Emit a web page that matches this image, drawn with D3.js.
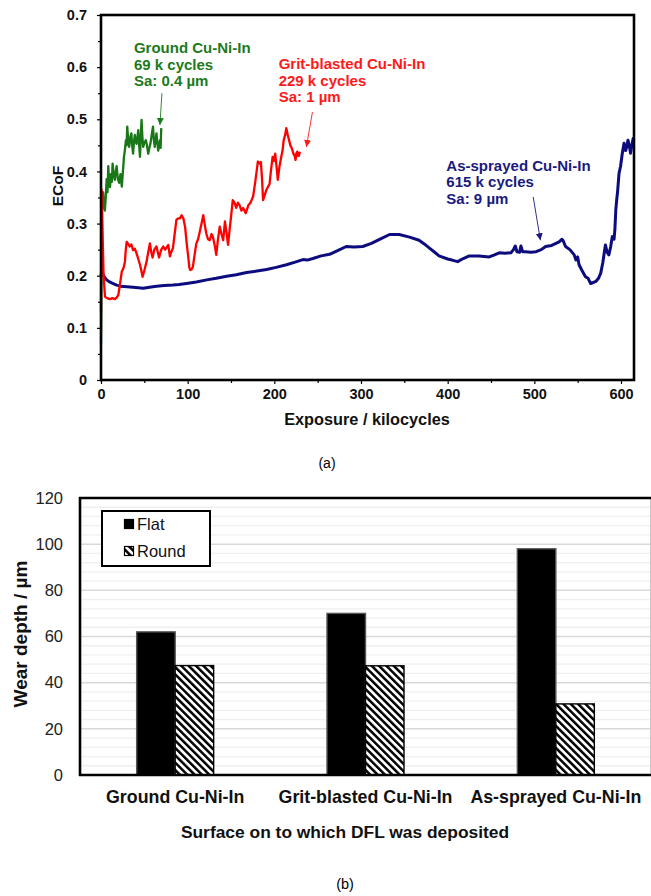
<!DOCTYPE html>
<html>
<head>
<meta charset="utf-8">
<script src="https://cdn.jsdelivr.net/npm/d3@7"></script>
<style>
  body { margin: 0; background: #fff; }
  svg { display: block; font-family: "Liberation Sans", Arial, Helvetica, sans-serif; }
</style>
</head>
<body>
<svg id="fig" width="651" height="896"></svg>
<script>
// ---------- (a) friction coefficient traces: [kilocycles, ECoF] ----------
const groundTrace = [
  [0,0.07],[0.3,0.13],[0.6,0.34],[1.5,0.35],[2.5,0.36],[3.5,0.33],[4.5,0.325],[5.5,0.35],[6.5,0.385],
  [7.5,0.36],[8.4,0.41],[9.4,0.38],[10.4,0.37],[11.5,0.395],[12.5,0.38],[13.4,0.415],[14.5,0.395],
  [16,0.384],[17,0.40],[18,0.41],[19.5,0.385],[21,0.378],[22.5,0.395],[24,0.371],[25.3,0.40],
  [26.5,0.428],[27.5,0.44],[28.8,0.46],[29.5,0.45],[30.3,0.486],[31.4,0.46],[32.5,0.447],[33.8,0.465],
  [35,0.473],[36,0.45],[37,0.434],[38,0.455],[39,0.47],[40,0.458],[41,0.453],[42,0.465],[43,0.479],
  [44,0.45],[45,0.428],[46,0.47],[46.8,0.499],[47.8,0.465],[48.7,0.447],[50,0.455],[51.8,0.46],
  [53,0.45],[54.5,0.434],[55.8,0.445],[57,0.453],[58.5,0.47],[60,0.486],[61,0.46],[62,0.447],
  [63,0.46],[64,0.473],[65,0.455],[66,0.44],[67,0.45],[68,0.46],[68.8,0.445],[69.5,0.483]
];
const gritTrace = [
  [0,0.13],[0.4,0.30],[0.7,0.365],[1.2,0.34],[2,0.27],[3,0.2],[4.6,0.16],[7,0.157],[10.4,0.155],
  [13,0.157],[16,0.155],[18,0.158],[20,0.163],[22,0.185],[24,0.208],[26,0.215],[27.6,0.227],
  [28.6,0.25],[29.6,0.265],[31,0.262],[33,0.256],[35,0.26],[37,0.249],[39,0.252],[41,0.243],
  [43,0.232],[45,0.221],[46.5,0.21],[48,0.198],[50,0.21],[52.6,0.227],[54.5,0.245],[56.4,0.262],
  [58,0.245],[59.5,0.235],[61.5,0.25],[64,0.256],[65.5,0.245],[67,0.235],[69.5,0.25],[71.8,0.256],
  [74,0.25],[76,0.255],[77.6,0.259],[79.5,0.237],[81,0.245],[83,0.253],[85,0.28],[87,0.307],
  [89,0.31],[91,0.31],[93,0.316],[95,0.31],[97,0.294],[99,0.26],[100.6,0.237],[102,0.215],
  [103,0.211],[104.5,0.212],[106,0.217],[108,0.24],[110,0.262],[112,0.27],[114,0.285],[116,0.30],
  [118,0.316],[120,0.295],[121.5,0.281],[123.5,0.27],[125.5,0.268],[127.5,0.28],[129,0.275],
  [131,0.26],[133,0.24],[135,0.27],[137,0.294],[139,0.28],[141,0.268],[143,0.304],[145,0.28],
  [146.6,0.259],[148.5,0.29],[150.5,0.32],[152,0.345],[154,0.34],[156,0.33],[158,0.34],[160,0.335],
  [162,0.325],[164,0.33],[167,0.32],[170,0.335],[172.5,0.34],[175.5,0.352],[178,0.38],[181,0.419],
  [183,0.415],[184.5,0.418],[186,0.38],[187,0.345],[189,0.355],[190.7,0.364],[192.5,0.37],
  [194.5,0.376],[196,0.40],[198,0.428],[199.5,0.42],[201,0.434],[202.5,0.41],[204,0.384],
  [206,0.41],[208,0.428],[209.5,0.44],[210.8,0.46],[212.5,0.47],[213.8,0.483],[215.5,0.47],
  [217,0.46],[218.5,0.45],[219.5,0.447],[221,0.44],[222,0.434],[223.5,0.43],[224.5,0.422],
  [225.5,0.435],[226.5,0.438],[227.5,0.43],[228.4,0.43],[229.2,0.436],[230,0.434]
];
const sprayedTrace = [
  [0,0.2],[1,0.21],[2.7,0.201],[4.5,0.196],[6.5,0.192],[10,0.188],[14,0.185],[18,0.182],[22,0.18],
  [30,0.179],[37,0.178],[43,0.177],[48.7,0.176],[56,0.178],[64,0.18],[73,0.181],[83,0.182],
  [90,0.183],[98.6,0.185],[110,0.188],[122,0.192],[133,0.195],[145,0.199],[156,0.202],[168,0.206],
  [180,0.209],[191,0.212],[202,0.216],[214,0.221],[224,0.226],[233,0.231],[238,0.230],[244.5,0.233],
  [254,0.238],[263.7,0.241],[273,0.248],[283,0.256],[292,0.255],[302,0.256],[312,0.262],[322,0.27],
  [333,0.279],[344,0.279],[356,0.274],[367,0.268],[373,0.261],[379,0.253],[385,0.245],[390,0.238],
  [400,0.232],[405,0.230],[411.5,0.227],[418,0.233],[425,0.238],[436,0.238],[448,0.236],[454,0.24],
  [459.5,0.244],[466,0.243],[473,0.244],[476,0.25],[478,0.257],[480,0.246],[483,0.245],[484.5,0.257],
  [486.5,0.246],[490,0.246],[496,0.245],[502,0.246],[508,0.25],[513,0.256],[520,0.258],[528.6,0.265],
  [531.7,0.270],[533,0.268],[536,0.256],[541,0.25],[546,0.240],[548,0.23],[550,0.236],[551.6,0.221],
  [555,0.21],[559,0.198],[562,0.195],[565,0.185],[568,0.187],[571,0.189],[574,0.195],[576.6,0.205],
  [579,0.225],[582,0.259],[584,0.245],[586,0.240],[588,0.255],[590,0.275],[592,0.27],[593,0.29],
  [594,0.326],[595,0.345],[596,0.36],[597.7,0.396],[599.5,0.41],[601.5,0.435],[603.5,0.454],
  [605.4,0.44],[607,0.45],[608,0.46],[609.5,0.45],[611,0.435],[612.5,0.45],[614,0.463],[615,0.46]
];
const xTicksA = [0, 100, 200, 300, 400, 500, 600];
const yTicksA = [0, 0.1, 0.2, 0.3, 0.4, 0.5, 0.6, 0.7];

// Labels for each trace; arrow runs from "from" to the tip "to" (data units)
const traceNotes = [
  { lines: ["Ground Cu-Ni-In", "69 k cycles", "Sa: 0.4 µm"], at: [38, 0.627], from: [70.3, 0.55], to: [68, 0.489], color: "#1c7a1c" },
  { lines: ["Grit-blasted Cu-Ni-In", "229 k cycles", "Sa: 1 µm"], at: [205, 0.596], from: [244, 0.514], to: [237, 0.447], color: "#ff1a1a" },
  { lines: ["As-sprayed Cu-Ni-In", "615 k cycles", "Sa: 9 µm"], at: [398.5, 0.401], from: [498.7, 0.351], to: [507, 0.268], color: "#1a1a7c" }
];

// ---------- (b) wear depth ----------
const surfaces = ["Ground Cu-Ni-In", "Grit-blasted Cu-Ni-In", "As-sprayed Cu-Ni-In"];
const counterfaces = ["Flat", "Round"];
const flatDepth = [62, 70, 98];
const roundDepth = [47.4, 47.3, 30.8];
const yTicksB = [0, 20, 40, 60, 80, 100, 120];

const svg = d3.select("#fig");
const defs = svg.append("defs");

// Diagonal hatch used for the Round counterface
const hatch = defs.append("pattern")
  .attr("id", "hatch").attr("patternUnits", "userSpaceOnUse")
  .attr("width", 5.2).attr("height", 5.2)
  .attr("patternTransform", "rotate(-45)");
hatch.append("rect").attr("width", 5.2).attr("height", 5.2).attr("fill", "#fff");
hatch.append("rect").attr("x", 0).attr("y", 0).attr("width", 2.5).attr("height", 5.2).attr("fill", "#000");

// ================= Panel (a) =================
const xA = d3.scaleLinear().domain([0, 615]).range([101, 634]);
const yA = d3.scaleLinear().domain([0, 0.7]).range([380, 15]);
const gA = svg.append("g");

// minor ticks
gA.append("g").attr("transform", `translate(0,${yA(0)})`)
  .call(d3.axisBottom(xA).tickValues(d3.range(50, 600, 100)).tickSize(3).tickFormat(""))
  .call(g => g.select(".domain").remove());
gA.append("g").attr("transform", `translate(${xA(0)},0)`)
  .call(d3.axisLeft(yA).tickValues(d3.range(0.05, 0.7, 0.1)).tickSize(3).tickFormat(""))
  .call(g => g.select(".domain").remove());

// major ticks with labels
gA.append("g").attr("transform", `translate(0,${yA(0)})`)
  .call(d3.axisBottom(xA).tickValues(xTicksA).tickSize(4).tickPadding(5).tickFormat(d3.format("d")))
  .call(g => g.select(".domain").remove())
  .call(g => g.selectAll("text").attr("font-size", 14.5).attr("font-weight", "bold").attr("fill", "#111"));
gA.append("g").attr("transform", `translate(${xA(0)},0)`)
  .call(d3.axisLeft(yA).tickValues(yTicksA).tickSize(4).tickPadding(10)
    .tickFormat(d => d === 0 ? "0" : d3.format(".1f")(d)))
  .call(g => g.select(".domain").remove())
  .call(g => g.selectAll("text").attr("font-size", 14.5).attr("font-weight", "bold").attr("fill", "#111"));
gA.selectAll(".tick line").attr("stroke", "#000").attr("stroke-width", 1.2);

// traces
const lineA = d3.line().x(d => xA(d[0])).y(d => yA(d[1]));
gA.append("path").datum(sprayedTrace).attr("d", lineA)
  .attr("fill", "none").attr("stroke", "#0c0c7e").attr("stroke-width", 3).attr("stroke-linejoin", "round");
gA.append("path").datum(groundTrace).attr("d", lineA)
  .attr("fill", "none").attr("stroke", "#187818").attr("stroke-width", 2.3).attr("stroke-linejoin", "round");
gA.append("path").datum(gritTrace).attr("d", lineA)
  .attr("fill", "none").attr("stroke", "#ff0000").attr("stroke-width", 2.3).attr("stroke-linejoin", "round");

// frame
gA.append("rect")
  .attr("x", xA(0)).attr("y", yA(0.7))
  .attr("width", xA(615) - xA(0)).attr("height", yA(0) - yA(0.7))
  .attr("fill", "none").attr("stroke", "#000").attr("stroke-width", 2.6);

// annotations
traceNotes.forEach((n, i) => {
  const mid = "arrow" + i;
  defs.append("marker").attr("id", mid)
    .attr("viewBox", "0 0 10 10").attr("refX", 10).attr("refY", 5)
    .attr("markerWidth", 7).attr("markerHeight", 8).attr("markerUnits", "userSpaceOnUse")
    .attr("orient", "auto")
    .append("path").attr("d", "M0,0 L10,5 L0,10 Z").attr("fill", n.color);
  gA.append("line")
    .attr("x1", xA(n.from[0])).attr("y1", yA(n.from[1]))
    .attr("x2", xA(n.to[0])).attr("y2", yA(n.to[1]))
    .attr("stroke", n.color).attr("stroke-width", 0.9)
    .attr("marker-end", `url(#${mid})`);
  const t = gA.append("text")
    .attr("x", xA(n.at[0])).attr("y", yA(n.at[1]))
    .attr("fill", n.color).attr("font-size", 15).attr("font-weight", "bold");
  n.lines.forEach((s, k) => t.append("tspan").attr("x", xA(n.at[0])).attr("dy", k === 0 ? 0 : 16.5).text(s));
});

// axis titles
gA.append("text").attr("x", 367).attr("y", 425).attr("text-anchor", "middle")
  .attr("font-size", 16.3).attr("font-weight", "bold").attr("fill", "#111").text("Exposure / kilocycles");
gA.append("text").attr("transform", "translate(63,186) rotate(-90)").attr("text-anchor", "middle")
  .attr("font-size", 15.5).attr("font-weight", "bold").attr("fill", "#111").text("ECoF");
gA.append("text").attr("x", 327).attr("y", 468).attr("text-anchor", "middle")
  .attr("font-size", 14).attr("fill", "#000").text("(a)");

// ================= Panel (b) =================
const xB = d3.scaleBand().domain(surfaces).range([80, 651]);
const halfGroup = 38.5;
const xSub = d3.scaleBand().domain(counterfaces)
  .range([xB.bandwidth() / 2 - halfGroup, xB.bandwidth() / 2 + halfGroup]);
const yB = d3.scaleLinear().domain([0, 120]).range([775, 498]);
const gB = svg.append("g");

// gridlines: fine every 4 µm, main every 20 µm
gB.append("g").selectAll("line")
  .data(d3.range(4, 120, 4).filter(v => v % 20 !== 0))
  .join("line")
  .attr("x1", 80).attr("x2", 651).attr("y1", d => yB(d)).attr("y2", d => yB(d))
  .attr("stroke", "#efefef").attr("stroke-width", 1.3);
gB.append("g").selectAll("line")
  .data(yTicksB.slice(1, -1))
  .join("line")
  .attr("x1", 80).attr("x2", 651).attr("y1", d => yB(d)).attr("y2", d => yB(d))
  .attr("stroke", "#d9d9d9").attr("stroke-width", 1.5);

// bars
const rows = surfaces.map((s, i) => ({ surface: s, Flat: flatDepth[i], Round: roundDepth[i] }));
const groups = gB.append("g").selectAll("g").data(rows).join("g")
  .attr("transform", d => `translate(${xB(d.surface)},0)`);
groups.selectAll("rect")
  .data(d => counterfaces.map(c => ({ key: c, value: d[c] })))
  .join("rect")
  .attr("x", d => xSub(d.key)).attr("width", xSub.bandwidth())
  .attr("y", d => yB(d.value)).attr("height", d => yB(0) - yB(d.value))
  .attr("fill", d => d.key === "Flat" ? "#000" : "url(#hatch)")
  .attr("stroke", d => d.key === "Flat" ? "#555" : "#000")
  .attr("stroke-width", 1.4);

// frame
gB.append("line").attr("x1", 650.5).attr("x2", 650.5).attr("y1", 498).attr("y2", 775)
  .attr("stroke", "#c8c8c8").attr("stroke-width", 1);
gB.append("line").attr("x1", 79).attr("x2", 651).attr("y1", 498).attr("y2", 498)
  .attr("stroke", "#000").attr("stroke-width", 2.6);
gB.append("line").attr("x1", 79).attr("x2", 651).attr("y1", yB(0)).attr("y2", yB(0))
  .attr("stroke", "#000").attr("stroke-width", 2.6);
gB.append("line").attr("x1", 80).attr("x2", 80).attr("y1", 497).attr("y2", 776)
  .attr("stroke", "#000").attr("stroke-width", 2.6);

// y axis labels
gB.append("g").attr("transform", "translate(80,0)")
  .call(d3.axisLeft(yB).tickValues(yTicksB).tickSize(0).tickPadding(17))
  .call(g => g.select(".domain").remove())
  .call(g => g.selectAll("text").attr("font-size", 16.5).attr("fill", "#222"));

// category labels
gB.append("g").attr("transform", `translate(0,${yB(0)})`)
  .call(d3.axisBottom(xB).tickSize(0).tickPadding(15))
  .call(g => g.select(".domain").remove())
  .call(g => g.selectAll("text").attr("font-size", 17.8).attr("font-weight", "bold").attr("fill", "#111"));

// axis titles
gB.append("text").attr("x", 345).attr("y", 838).attr("text-anchor", "middle")
  .attr("font-size", 17.4).attr("font-weight", "bold").attr("fill", "#111")
  .text("Surface on to which DFL was deposited");
gB.append("text").attr("transform", "translate(27,634) rotate(-90)").attr("text-anchor", "middle")
  .attr("font-size", 19).attr("font-weight", "bold").attr("fill", "#111")
  .text("Wear depth / µm");
gB.append("text").attr("x", 345).attr("y", 889).attr("text-anchor", "middle")
  .attr("font-size", 14.5).attr("fill", "#000").text("(b)");

// legend
const lg = gB.append("g");
lg.append("rect").attr("x", 102).attr("y", 511).attr("width", 108).attr("height", 55)
  .attr("fill", "#fff").attr("stroke", "#000").attr("stroke-width", 2);
counterfaces.forEach((c, i) => {
  const cy = 524 + i * 27;
  lg.append("rect").attr("x", 124.5).attr("y", cy - 4.5).attr("width", 9).attr("height", 9)
    .attr("fill", c === "Flat" ? "#000" : "url(#hatch)").attr("stroke", "#000").attr("stroke-width", 1.2);
  lg.append("text").attr("x", 137).attr("y", cy + 6).attr("font-size", 16.5).attr("fill", "#111").text(c);
});
</script>
</body>
</html>
